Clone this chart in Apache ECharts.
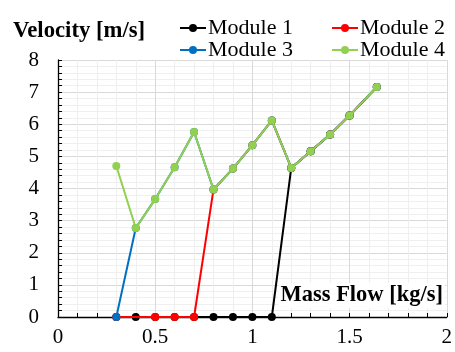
<!DOCTYPE html>
<html><head><meta charset="utf-8">
<script src="https://cdn.jsdelivr.net/npm/echarts@6/dist/echarts.min.js"></script>
<style>html,body{margin:0;padding:0;background:#fff}#c{width:455px;height:352px}</style>
</head><body><div id="c"></div>
<script>
const seriesNames = ['Module 1','Module 2','Module 3','Module 4'];
const colors = ['#000000','#ff0000','#0070c0','#92d050'];
const m1x = [0.3,0.4,0.5,0.6,0.7,0.8,0.9,1.0,1.1,1.2,1.3,1.4,1.5,1.64];
const m1y = [0,0,0,0,0,0,0,0,0,4.64,5.16,5.68,6.27,7.16];
const m2x = [0.3,0.5,0.6,0.7,0.8,0.9,1.0,1.1,1.2,1.3,1.4,1.5,1.64];
const m2y = [0,0,0,0,3.97,4.62,5.35,6.12,4.64,5.16,5.68,6.27,7.16];
const m3x = [0.3,0.4,0.5,0.6,0.7,0.8,0.9,1.0,1.1,1.2,1.3,1.4,1.5,1.64];
const m3y = [0,2.77,3.67,4.66,5.76,3.97,4.62,5.35,6.12,4.64,5.16,5.68,6.27,7.16];
const m4x = [0.3,0.4,0.5,0.6,0.7,0.8,0.9,1.0,1.1,1.2,1.3,1.4,1.5,1.64];
const m4y = [4.70,2.77,3.67,4.66,5.76,3.97,4.62,5.35,6.12,4.64,5.16,5.68,6.27,7.16];
const xs = [m1x,m2x,m3x,m4x], ys = [m1y,m2y,m3y,m4y];
const xTitle = 'Mass Flow [kg/s]';
const yTitle = 'Velocity [m/s]';
const font = '"Liberation Serif","Times New Roman",serif';

const chart = echarts.init(document.getElementById('c'));
const legendPos = [[179,17],[331,17],[179,39],[331,39]];
chart.setOption({
  animation:false,
  grid:{left:58,right:8,top:60,bottom:35,containLabel:false},
  legend: seriesNames.map((n,i)=>({
    data:[n], left:legendPos[i][0], top:legendPos[i][1], itemWidth:26, itemHeight:10, itemGap:0,
    textStyle:{fontFamily:font,fontSize:22,color:'#000',padding:[0,0,0,-3]}, padding:0
  })),
  xAxis:{type:'value',min:0,max:2,interval:0.5,
    axisLine:{show:true,onZero:false,lineStyle:{color:'#000',width:1.3}},
    axisTick:{show:true,inside:true,length:4,lineStyle:{color:'#000'}},
    minorTick:{show:true,splitNumber:5,length:4,lineStyle:{color:'#000'}},
    splitLine:{show:true,lineStyle:{color:'#d9d9d9',width:1}},
    minorSplitLine:{show:true,lineStyle:{color:'#efefef',width:1}},
    axisLabel:{fontFamily:font,fontSize:21,color:'#000',margin:10,formatter:v=>String(v)}
  },
  yAxis:{type:'value',min:0,max:8,interval:1,
    axisLine:{show:true,lineStyle:{color:'#000',width:1.3}},
    axisTick:{show:true,inside:true,length:4,lineStyle:{color:'#000'}},
    minorTick:{show:true,splitNumber:5,length:4,lineStyle:{color:'#000'}},
    splitLine:{show:true,lineStyle:{color:'#d9d9d9',width:1}},
    minorSplitLine:{show:true,lineStyle:{color:'#efefef',width:1}},
    axisLabel:{fontFamily:font,fontSize:21,color:'#000',margin:19}
  },
  graphic:[
    {type:'text',left:13,top:20,style:{text:yTitle,font:'bold 22.7px '+font,fill:'#000'}},
    {type:'text',right:10,top:283,z:10,style:{text:xTitle,font:'bold 22.5px '+font,fill:'#000',backgroundColor:'#fff',padding:[1,2,1,2]}}
  ],
  series: seriesNames.map((n,i)=>({
    name:n,type:'line',data:xs[i].map((x,j)=>[x,ys[i][j]]),
    color:colors[i],symbol:'circle',symbolSize:8,showSymbol:true,
    lineStyle:{width:2,color:colors[i]},itemStyle:{color:colors[i]},z:2+i
  }))
});
</script></body></html>
